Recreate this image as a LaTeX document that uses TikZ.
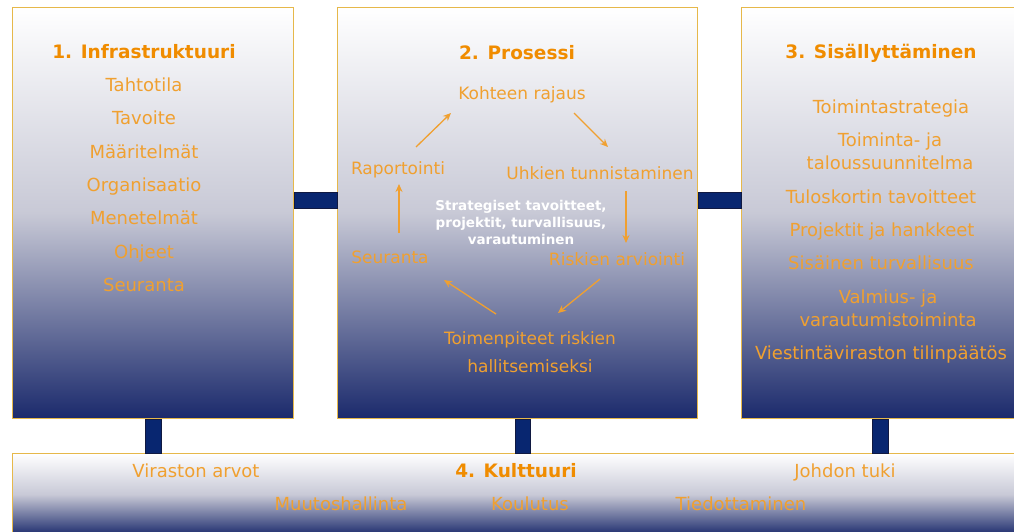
\documentclass[tikz,border=0pt]{standalone}
\usepackage{fontspec}
\setmainfont{DejaVu Sans}
\usetikzlibrary{calc,arrows.meta}

\definecolor{navyc}{RGB}{27,42,108}
\definecolor{linkc}{RGB}{8,38,112}
\definecolor{midc}{RGB}{200,201,214}
\definecolor{goldc}{RGB}{230,184,74}
\definecolor{itemc}{RGB}{240,160,48}
\definecolor{headc}{RGB}{240,140,0}

\tikzset{
  panel/.style={draw=goldc, line width=1pt, top color=white, bottom color=navyc, middle color=midc, inner sep=0pt, anchor=north west},
  link/.style={draw=navyc!60!black, fill=linkc, line width=0.6pt},
  head/.style={text=headc, font=\fontsize{18.5}{20}\selectfont\bfseries, inner sep=0pt, text height=13.5pt, text depth=0pt},
  item/.style={text=itemc, font=\fontsize{18}{23}\selectfont, inner sep=0pt, text height=13pt, text depth=0pt},
  twoline/.style={text=itemc, font=\fontsize{18}{23}\selectfont, align=center, inner sep=0pt},
  stage/.style={text=itemc, font=\fontsize{17}{28}\selectfont, inner sep=0pt, text height=12.5pt, text depth=0pt},
  flow/.style={-{Stealth[length=8pt,width=7pt]}, draw=itemc, line width=1.3pt},
}

\begin{document}
\begin{tikzpicture}[x=1pt, y=-1pt]
        \clip (0,0) rectangle (1014,531);
        \fill[white] (0,0) rectangle (1014,531);

        % Panels
        \node[panel, minimum width=281pt, minimum height=411pt] (infra) at (12,7) {};
        \node[panel, minimum width=360pt, minimum height=411pt] (proc) at (337,7) {};
        \node[panel, minimum width=289pt, minimum height=411pt] (sis) at (741,7) {};
        \node[panel, minimum width=1030pt, minimum height=82pt] (kult) at (12,453) {};

        % Links between panels
        \path[link] ($(infra.east)+(0,-20.5)$) rectangle ($(proc.west)+(0,-4.5)$);
        \path[link] ($(proc.east)+(0,-20.5)$) rectangle ($(sis.west)+(0,-4.5)$);
        \path[link] ($(infra.south)+(-7.5,0)$) rectangle ($(infra.south |- kult.north)+(8.5,0)$);
        \path[link] ($(proc.south)+(-2,0)$) rectangle ($(proc.south |- kult.north)+(13,0)$);
        \path[link] ($(sis.south)+(-13.5,0)$) rectangle ($(sis.south |- kult.north)+(2.5,0)$);

        % 1 - Infrastruktuuri
        \node[head] (infrahead) at (144,52) {1. Infrastruktuuri};
        \node[item] (tahto) at (144,85) {Tahtotila};
        \node[item] (tavoite) at (144,118) {Tavoite};
        \node[item] (maar) at (144,152) {Määritelmät};
        \node[item] (org) at (144,185) {Organisaatio};
        \node[item] (menet) at (144,218) {Menetelmät};
        \node[item] (ohjeet) at (144,252) {Ohjeet};
        \node[item] (seuranta) at (144,285) {Seuranta};

        % 2 - Prosessi (kierto)
        \node[head] (prochead) at (517,53) {2. Prosessi};
        \node[stage] (kohde) at (522,93) {Kohteen rajaus};
        \node[stage] (uhka) at (600,173) {Uhkien tunnistaminen};
        \node[stage] (arvio) at (617,259) {Riskien arviointi};
        \node[stage] (toimet) at (530,338) {Toimenpiteet riskien};
        \node[stage] (hallinta) at (530,366) {hallitsemiseksi};
        \node[stage] (seur) at (390,257) {Seuranta};
        \node[stage] (rap) at (398,168) {Raportointi};
        \node[text=white, font=\fontsize{13.5}{17}\selectfont\bfseries, align=center, inner sep=0pt] (ydin) at (521,222)
            {Strategiset tavoitteet,\\projektit, turvallisuus,\\varautuminen};

        \draw[flow] ($(rap)+(18,-21)$) -- ($(kohde)+(-71,20)$);
        \draw[flow] ($(kohde)+(52,20)$) -- ($(uhka)+(8,-26)$);
        \draw[flow] ($(uhka)+(26,18)$) -- ($(arvio)+(9,-16)$);
        \draw[flow] ($(arvio)+(-17,20)$) -- ($(toimet)+(28,-25)$);
        \draw[flow] ($(toimet)+(-34,-24)$) -- ($(seur)+(54,23)$);
        \draw[flow] ($(seur)+(9,-24)$) -- ($(rap)+(1,16)$);

        % 3 - Sisällyttäminen
        \node[head] (sishead) at (881,52) {3. Sisällyttäminen};
        \node[item] (strat) at (891,107) {Toimintastrategia};
        \node[twoline] (tts) at (890,151) {Toiminta- ja\\taloussuunnitelma};
        \node[item] (tulos) at (881,197) {Tuloskortin tavoitteet};
        \node[item] (projekt) at (882,230) {Projektit ja hankkeet};
        \node[item] (turva) at (881,263) {Sisäinen turvallisuus};
        \node[twoline] (valmius) at (888,308) {Valmius- ja\\varautumistoiminta};
        \node[item] (tilinp) at (881,353) {Viestintäviraston tilinpäätös};

        % 4 - Kulttuuri
        \node[item] (arvot) at (196,471) {Viraston arvot};
        \node[head] (kulthead) at (516,471) {4. Kulttuuri};
        \node[item] (johto) at (845,471) {Johdon tuki};
        \node[item] (muutos) at (341,504) {Muutoshallinta};
        \node[item] (koulutus) at (530,504) {Koulutus};
        \node[item] (tiedotus) at (741,504) {Tiedottaminen};
    \end{tikzpicture}
\end{document}
